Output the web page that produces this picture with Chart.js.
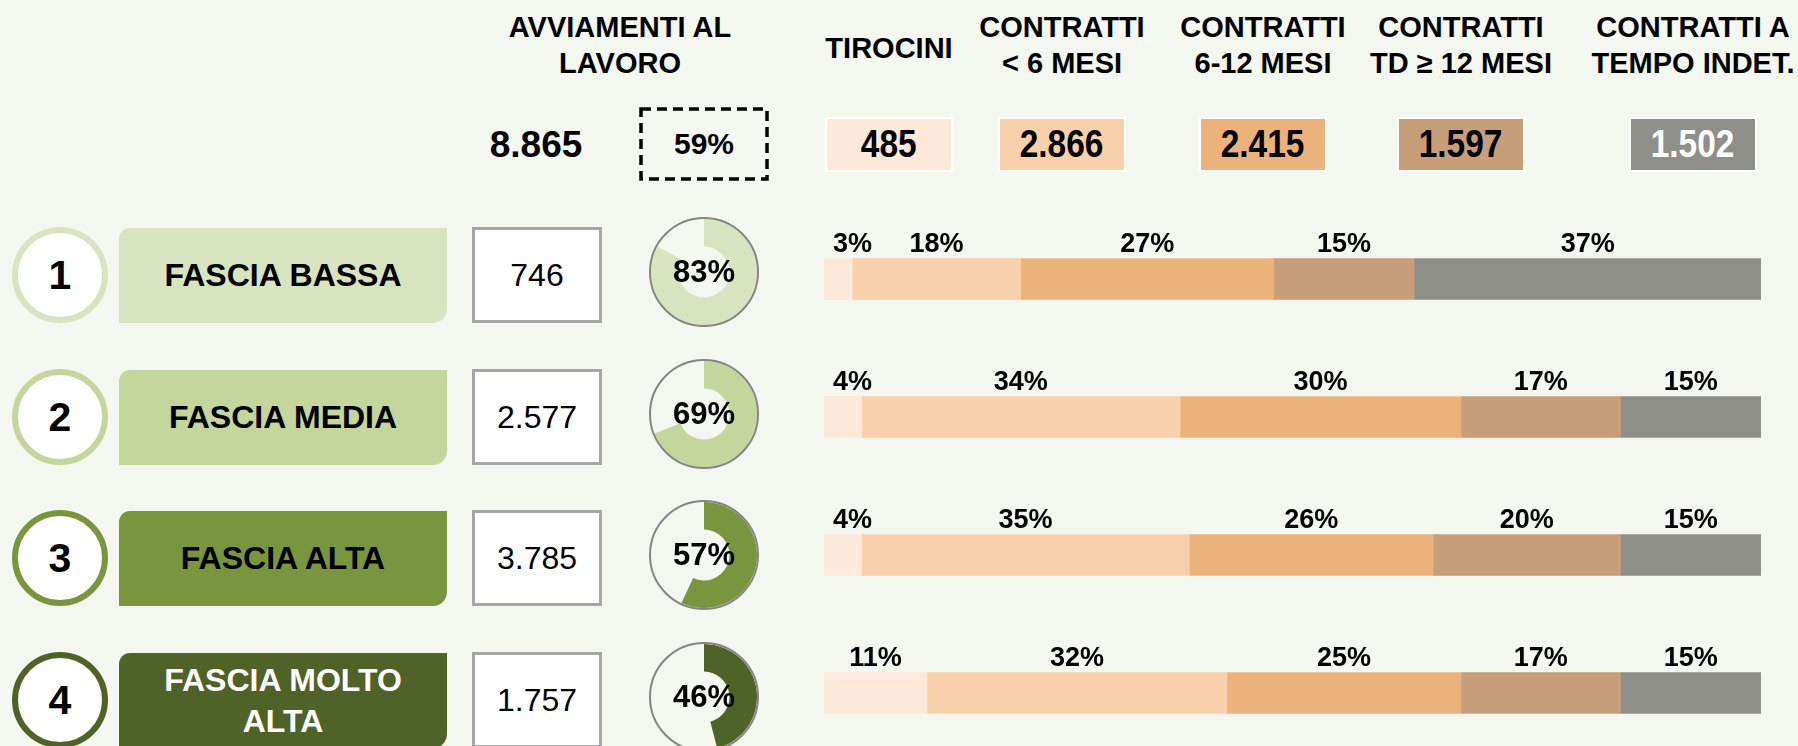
<!DOCTYPE html>
<html lang="it">
<head>
<meta charset="utf-8">
<script src="https://cdn.jsdelivr.net/npm/chart.js@4.4.1/dist/chart.umd.min.js"></script>
<style>
    html, body { margin: 0; padding: 0; background: #F4F7EF; }
    #page { position: relative; width: 1798px; height: 746px; overflow: hidden; background: #F4F7EF;
            font-family: 'Liberation Sans', Arial, sans-serif; color: #000; }
    .abs { position: absolute; box-sizing: border-box; }
    .head { width: 280px; text-align: center; font-weight: bold; font-size: 29px; line-height: 36px; white-space: pre; }
    .center { display: flex; align-items: center; justify-content: center; text-align: center; }
    .narrow { display: inline-block; transform: scaleX(0.88); }
    canvas { position: absolute; }
</style>
</head>
<body>
<div id="page"></div>
<script>
// ── DATA ──
const fasce = ['1', '2', '3', '4'];
const fasceLabels = ['FASCIA BASSA', 'FASCIA MEDIA', 'FASCIA ALTA', 'FASCIA MOLTO ALTA'];
const avviamenti = [746, 2577, 3785, 1757];
const quotaPct = [83, 69, 57, 46];

const totaleAvviamenti = 8865;
const totalePct = 59;

const tipiContratto = ['TIROCINI', 'CONTRATTI\n< 6 MESI', 'CONTRATTI\n6-12 MESI', 'CONTRATTI\nTD \u2265 12 MESI', 'CONTRATTI A\nTEMPO INDET.'];
const totaliTipo = [485, 2866, 2415, 1597, 1502];

// % per fascia (rows: bassa, media, alta, molto alta)
const tirocini = [3, 4, 4, 11];
const meno6Mesi = [18, 34, 35, 32];
const da6a12Mesi = [27, 30, 26, 25];
const td12Mesi = [15, 17, 20, 17];
const tempoIndet = [37, 15, 15, 15];

// ── STYLE ──
const FONT = "'Liberation Sans', Arial, sans-serif";
const TIPO_COLORS = ['#FDE9DA', '#F8D1AC', '#ECB27C', '#C69E79', '#8E8F89'];
const TIPO_TEXT = ['#000', '#000', '#000', '#000', '#fff'];
const FASCIA_COLORS = ['#D8E4BF', '#C4D69C', '#79953D', '#4F6228'];
const FASCIA_TEXT = ['#000', '#000', '#000', '#fff'];
const ROW_Y = [275, 417, 558, 700];
const TIPO_X = [889, 1062, 1263, 1461, 1693];

const fmt = n => String(n).replace(/\B(?=(\d{3})+(?!\d))/g, '.');
const page = document.getElementById('page');

function box(css, html) {
    const d = document.createElement('div');
    d.className = 'abs';
    d.style.cssText = css;
    if (html !== undefined) d.innerHTML = html;
    page.appendChild(d);
    return d;
}

// ── HEADER ──
box(`left:${620 - 140}px;top:9px;`, 'AVVIAMENTI AL\nLAVORO').classList.add('head');
tipiContratto.forEach((t, i) => {
    const twoLines = t.includes('\n');
    box(`left:${TIPO_X[i] - 140}px;top:${twoLines ? 9 : 30}px;`, t).classList.add('head');
});

box(`left:466px;top:120px;width:140px;height:50px;font-weight:bold;font-size:37px;`, fmt(totaleAvviamenti)).classList.add('center');
box(`left:639px;top:107px;width:130px;height:74px;font-weight:bold;font-size:30px;`,
    `<svg width="130" height="74" style="position:absolute;left:0;top:0">` +
    `<rect x="2" y="2" width="126" height="70" fill="none" stroke="#000" stroke-width="3.5" stroke-dasharray="10 6"/></svg>` +
    `<span style="position:relative">${totalePct}%</span>`).classList.add('center');

totaliTipo.forEach((v, i) => {
    box(`left:${TIPO_X[i] - 64}px;top:117px;width:128px;height:55px;background:${TIPO_COLORS[i]};border:2px solid #fff;` +
        `font-weight:bold;font-size:38px;color:${TIPO_TEXT[i]};`, `<span class="narrow">${fmt(v)}</span>`).classList.add('center');
});

// ── ROWS ──
fasce.forEach((n, i) => {
    const cy = ROW_Y[i];
    box(`left:12px;top:${cy - 48}px;width:96px;height:96px;border-radius:50%;background:#fff;border:6px solid ${FASCIA_COLORS[i]};` +
        `font-weight:bold;font-size:41px;`, n).classList.add('center');
    box(`left:119px;top:${cy - 47}px;width:328px;height:95px;background:${FASCIA_COLORS[i]};border-radius:11px 0 14px 0;` +
        `padding:0 34px;font-weight:bold;font-size:32px;line-height:41px;color:${FASCIA_TEXT[i]};`, fasceLabels[i]).classList.add('center');
    box(`left:472px;top:${cy - 48}px;width:130px;height:96px;background:#fff;border:3px solid #A6A6A6;font-size:32px;`,
        fmt(avviamenti[i])).classList.add('center');
});

// ── DOUGHNUTS ──
const ringOutline = {
    id: 'ringOutline',
    afterDraw(chart, args, opts) {
        const arc = chart.getDatasetMeta(0).data[0];
        const ctx = chart.ctx;
        ctx.save();
        ctx.beginPath();
        ctx.arc(arc.x, arc.y, arc.outerRadius + 1, 0, Math.PI * 2);
        ctx.lineWidth = 2;
        ctx.strokeStyle = '#858585';
        ctx.stroke();
        ctx.font = `bold 31px ${FONT}`;
        ctx.fillStyle = '#000';
        ctx.textAlign = 'center';
        ctx.textBaseline = 'middle';
        ctx.fillText(opts.text, arc.x, arc.y + 1);
        ctx.restore();
    }
};

quotaPct.forEach((p, i) => {
    const size = 112;
    const cv = document.createElement('canvas');
    cv.width = size; cv.height = size;
    cv.style.left = (704 - size / 2) + 'px';
    cv.style.top = (ROW_Y[i] - 3 - size / 2) + 'px';
    cv.style.width = size + 'px'; cv.style.height = size + 'px';
    page.appendChild(cv);
    new Chart(cv.getContext('2d'), {
        type: 'doughnut',
        data: {
            labels: ['quota', 'resto'],
            datasets: [{
                data: [p, 100 - p],
                backgroundColor: [FASCIA_COLORS[i], 'rgba(0,0,0,0)'],
                borderWidth: 0,
                hoverOffset: 0
            }]
        },
        options: {
            responsive: false,
            animation: false,
            cutout: '48%',
            layout: { padding: 3 },
            plugins: {
                legend: { display: false },
                tooltip: { enabled: false },
                ringOutline: { text: p + '%' }
            }
        },
        plugins: [ringOutline]
    });
});

// ── STACKED BARS ──
const barLabels = {
    id: 'barLabels',
    afterDatasetsDraw(chart) {
        const ctx = chart.ctx;
        ctx.save();
        ctx.font = `bold 27px ${FONT}`;
        ctx.fillStyle = '#000';
        ctx.textAlign = 'center';
        ctx.textBaseline = 'alphabetic';
        chart.data.datasets.forEach((ds, di) => {
            chart.getDatasetMeta(di).data.forEach((bar, j) => {
                const left = Math.min(bar.base, bar.x);
                const right = Math.max(bar.base, bar.x);
                const text = ds.data[j] + '%';
                const w = ctx.measureText(text).width;
                const x = Math.max((left + right) / 2, left + w / 2 + 9);
                ctx.fillText(text, x, bar.y - bar.height / 2 - 7);
            });
        });
        ctx.restore();
    }
};

const barCanvas = document.createElement('canvas');
barCanvas.width = 937; barCanvas.height = 552;
barCanvas.style.left = '824px'; barCanvas.style.top = '210px';
barCanvas.style.width = '937px'; barCanvas.style.height = '552px';
page.appendChild(barCanvas);

const serie = [tirocini, meno6Mesi, da6a12Mesi, td12Mesi, tempoIndet];
new Chart(barCanvas.getContext('2d'), {
    type: 'bar',
    data: {
        labels: fasceLabels,
        datasets: serie.map((d, i) => ({
            label: tipiContratto[i].replace('\n', ' '),
            data: d,
            backgroundColor: TIPO_COLORS[i],
            borderWidth: 0,
            barThickness: 41
        }))
    },
    options: {
        indexAxis: 'y',
        responsive: false,
        animation: false,
        layout: { padding: 0 },
        scales: {
            x: { stacked: true, min: 0, max: 100, display: false },
            y: { stacked: true, display: false }
        },
        plugins: { legend: { display: false }, tooltip: { enabled: false } }
    },
    plugins: [barLabels]
});
</script>
</body>
</html>
